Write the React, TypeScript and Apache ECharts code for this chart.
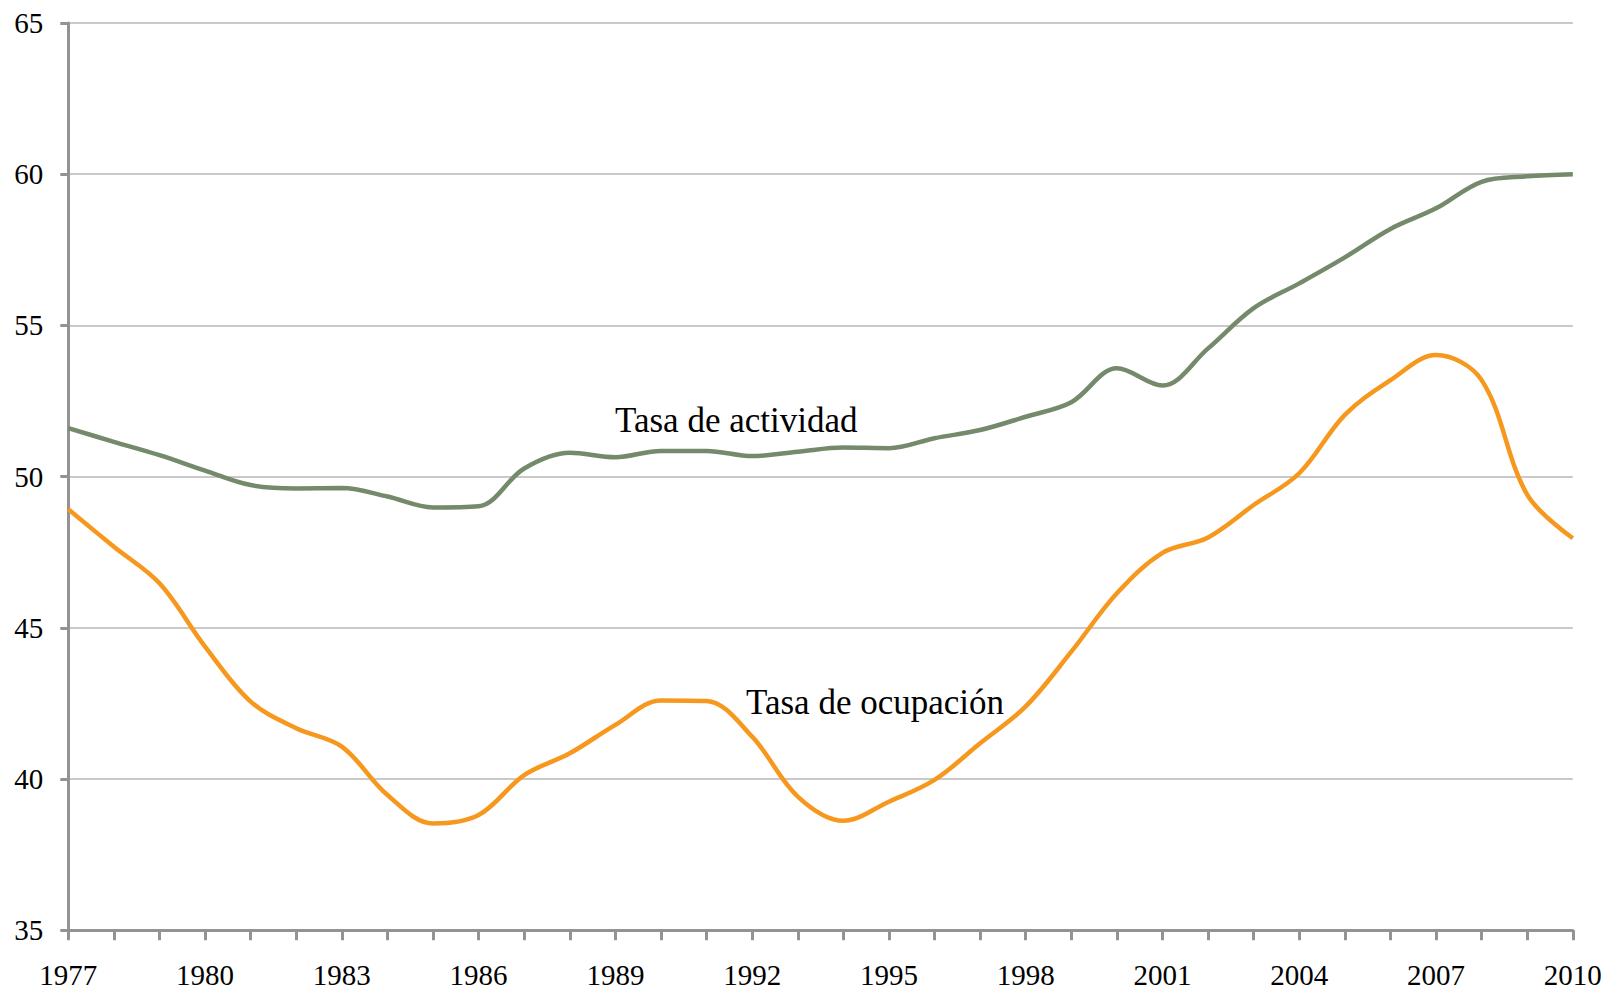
import React, { useEffect, useRef } from "react";
import * as echarts from "echarts";

const years = [
  "1977", "1978", "1979", "1980", "1981", "1982", "1983", "1984", "1985", "1986",
  "1987", "1988", "1989", "1990", "1991", "1992", "1993", "1994", "1995", "1996",
  "1997", "1998", "1999", "2000", "2001", "2002", "2003", "2004", "2005", "2006",
  "2007", "2008", "2009", "2010",
];

const tasaActividad = [
  51.6, 51.15, 50.71, 50.2, 49.72, 49.61, 49.62, 49.34, 48.98, 49.02,
  50.27, 50.79, 50.64, 50.85, 50.85, 50.68, 50.82, 50.96, 50.94, 51.27,
  51.54, 51.98, 52.46, 53.58, 53.01, 54.24, 55.57, 56.39, 57.25, 58.19,
  58.87, 59.75, 59.93, 60.0,
];

const tasaOcupacion = [
  48.92, 47.68, 46.47, 44.38, 42.56, 41.68, 41.07, 39.47, 38.53, 38.81,
  40.13, 40.85, 41.79, 42.6, 42.58, 41.4, 39.42, 38.62, 39.25, 39.97,
  41.18, 42.4, 44.21, 46.14, 47.48, 47.99, 49.06, 50.11, 52.04, 53.19,
  54.02, 53.19, 49.4, 47.96,
];

const labelActividad = "Tasa de actividad";
const labelOcupacion = "Tasa de ocupación";

const FONT = "Liberation Serif";
const AXIS_COLOR = "#939393";

export default function App() {
  const ref = useRef<HTMLDivElement>(null);

  useEffect(() => {
    if (!ref.current) return;
    const chart = echarts.init(ref.current, undefined, { renderer: "svg" });
    chart.setOption({
      animation: false,
      backgroundColor: "#ffffff",
      textStyle: { fontFamily: FONT },
      grid: { left: 68.3, right: 33.2, top: 23, bottom: 59.8, containLabel: false },
      xAxis: {
        type: "category",
        data: years,
        boundaryGap: false,
        axisLine: { show: true, lineStyle: { color: AXIS_COLOR, width: 3 } },
        axisTick: { show: true, interval: 0, length: 10, lineStyle: { color: AXIS_COLOR, width: 3 } },
        axisLabel: {
          interval: 2,
          margin: 30,
          color: "#000",
          fontFamily: FONT,
          fontSize: 29,
        },
        splitLine: { show: false },
      },
      yAxis: {
        type: "value",
        min: 35,
        max: 65,
        interval: 5,
        axisLine: { show: true, lineStyle: { color: AXIS_COLOR, width: 3 } },
        axisTick: { show: true, length: 8, lineStyle: { color: AXIS_COLOR, width: 3 } },
        axisLabel: {
          margin: 25,
          color: "#000",
          fontFamily: FONT,
          fontSize: 29,
        },
        splitLine: { show: true, lineStyle: { color: "#c9c9c9", width: 2 } },
      },
      series: [
        {
          name: labelOcupacion,
          type: "line",
          data: tasaOcupacion,
          smooth: 0.35,
          symbol: "none",
          lineStyle: { color: "#F7981E", width: 4.5 },
        },
        {
          name: labelActividad,
          type: "line",
          data: tasaActividad,
          smooth: 0.35,
          symbol: "none",
          lineStyle: { color: "#748A6B", width: 4.5 },
        },
      ],
      graphic: [
        {
          type: "text",
          left: 615,
          top: 403,
          style: { text: labelActividad, font: `35px ${FONT}`, fill: "#000" },
        },
        {
          type: "text",
          left: 746,
          top: 685,
          style: { text: labelOcupacion, font: `35px ${FONT}`, fill: "#000" },
        },
      ],
    });
    return () => chart.dispose();
  }, []);

  return (
    <div
      ref={ref}
      style={{ position: "fixed", left: 0, top: 0, width: 1606, height: 990 }}
    />
  );
}
